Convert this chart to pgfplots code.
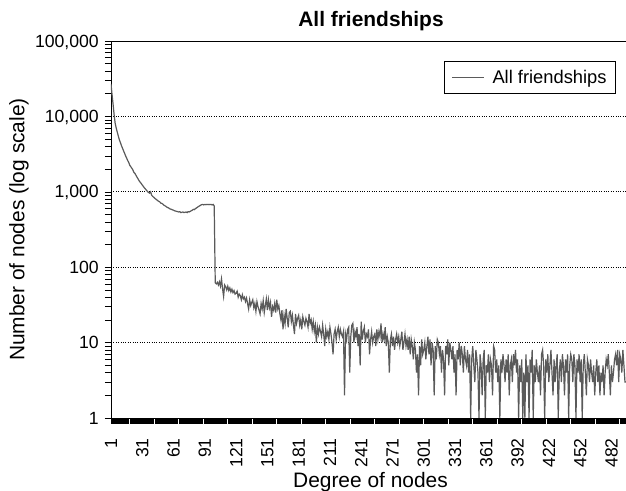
\documentclass[border=0pt]{standalone}
\usepackage{fontspec}
\setmainfont{Liberation Sans}
\usepackage{pgfplots}
\pgfplotsset{compat=1.18}
\definecolor{linegray}{RGB}{90,90,90}
\begin{document}
\begin{tikzpicture}
\begin{axis}[
  at={(111bp,73bp)}, anchor=south west,
  scale only axis, width=515bp, height=377bp,
  ymode=log, ymin=1, ymax=100000,
  xmin=0, xmax=494,
  axis x line=box, axis y line=left,
  x axis line style={-}, y axis line style={-},
  axis line style={black, line width=0.9bp},
  xtick={0,30,...,480},
  xticklabels={1,31,61,91,121,151,181,211,241,271,301,331,361,392,422,452,482},
  minor xtick={0,1,...,494},
  ytick={1,10,100,1000,10000,100000},
  yticklabels={1,10,100,{1,000},{10,000},{100,000}},
  xtick pos=left, ytick pos=left,
  tick align=outside,
  major tick length=6bp, minor tick length=6bp,
  tick style={black, line width=0.5bp},
  ymajorgrids, major grid style={black, dotted, line width=0.7bp},
  tick label style={font=\fontsize{17.7}{20}\selectfont},
  xticklabel style={yshift=-14bp, rotate=90, anchor=east, inner sep=0pt, text depth=0pt},
  yticklabel style={xshift=-6bp, anchor=east, inner sep=0pt, text depth=0pt},
  legend style={at={(0.9806,0.947)}, anchor=north east, draw=black, line width=0.8bp,
    font=\fontsize{18.4}{21}\selectfont, inner xsep=7bp, inner ysep=6.5bp,
    /tikz/every odd column/.append style={column sep=6bp}},
  legend image code/.code={\draw[#1,line width=1bp] (0bp,0bp)--(32bp,0bp);},
]
\addplot[color=linegray, line width=1.2bp, mark=none] coordinates {
(0,27000)(1,19500)(2,14500)(3,10500)(4,8100)(5,7000)(6,6200)(7,5500)(8,4900)(9,4500)
(10,4100)(11,3800)(12,3500)(13,3250)(14,3000)(15,2800)(16,2600)(17,2450)(18,2250)(19,2150)
(20,2050)(21,1950)(22,1800)(23,1750)(24,1650)(25,1560)(26,1480)(27,1400)(28,1340)(29,1290)
(30,1230)(31,1180)(32,1130)(33,1090)(34,1050)(35,1010)(36,980)(37,960)(38,1000)(39,900)
(40,870)(41,845)(42,820)(43,800)(44,780)(45,760)(46,745)(47,730)(48,705)(49,700)
(50,680)(51,660)(52,650)(53,635)(54,620)(55,615)(56,600)(57,590)(58,585)(59,575)
(60,570)(61,560)(62,555)(63,550)(64,545)(65,540)(66,545)(67,530)(68,535)(69,540)
(70,530)(71,535)(72,540)(73,530)(74,545)(75,540)(76,550)(77,560)(78,570)(79,585)
(80,580)(81,600)(82,610)(83,625)(84,640)(85,650)(86,665)(87,675)(88,680)(89,670)
(90,680)(91,675)(92,680)(93,680)(94,675)(95,680)(96,680)(97,670)(98,680)(99,650)
(100,62)(101,60)(102,63)(103,58)(104,64)(105,56)(106,70)(107,52)(108,41)(109,58)
(110,55)(111,50)(112,56)(113,49)(114,53)(115,47)(116,51)(117,46)(118,49)(119,44)
(120,45)(121,48)(122,40)(123,44)(124,42)(125,37)(126,43)(127,38)(128,40)(129,35)
(130,39)(131,33)(132,28)(133,37)(134,31)(135,34)(136,37)(137,29)(138,33)(139,26)
(140,35)(141,30)(142,27)(143,24)(144,33)(145,28)(146,36)(147,25)(148,31)(149,38)
(150,27)(151,37)(152,29)(153,34)(154,22)(155,30)(156,27)(157,33)(158,25)(159,37)
(160,28)(161,31)(162,24)(163,20)(164,27)(165,15)(166,23)(167,18)(168,28)(169,21)
(170,16)(171,25)(172,26)(173,19)(174,23)(175,17)(176,13)(177,24)(178,18)(179,21)
(180,23)(181,17)(182,20)(183,15)(184,22)(185,19)(186,17)(187,21)(188,19)(189,16)
(190,24)(191,18)(192,20)(193,15)(194,19)(195,14)(196,17)(197,10)(198,16)(199,13)
(200,16)(201,14)(202,12)(203,17)(204,13)(205,9)(206,15)(207,12)(208,14)(209,11)
(210,16)(211,13)(212,10)(213,7)(214,13)(215,15)(216,11)(217,14)(218,16)(219,12)
(220,15)(221,13)(222,12)(223,14)(224,2)(225,13)(226,11)(227,15)(228,16)(229,4)
(230,12)(231,17)(232,18)(233,10)(234,14)(235,12)(236,16)(237,9)(238,13)(239,5)
(240,19)(241,11)(242,14)(243,16)(244,10)(245,13)(246,12)(247,15)(248,7)(249,11)
(250,14)(251,10)(252,12)(253,13)(254,9)(255,15)(256,11)(257,14)(258,12)(259,18)
(260,10)(261,13)(262,11)(263,16)(264,9)(265,12)(266,10)(267,4)(268,11)(269,13)
(270,9)(271,12)(272,8)(273,11)(274,13)(275,10)(276,12)(277,9)(278,11)(279,14)
(280,8)(281,10)(282,13)(283,9)(284,11)(285,8)(286,12)(287,7)(288,11)(289,9)
(290,6)(291,10)(292,8)(293,4)(294,7)(295,2)(296,9)(297,5)(298,11)(299,7)
(300,8)(301,10)(302,6)(303,9)(304,12)(305,7)(306,11)(307,5)(308,10)(309,8)
(310,2)(311,9)(312,6)(313,11)(314,10)(315,7)(316,9)(317,4)(318,8)(319,6)
(320,2)(321,9)(322,7)(323,11)(324,5)(325,10)(326,8)(327,6)(328,9)(329,4)
(330,7)(331,2)(332,8)(333,6)(334,10)(335,5)(336,9)(337,7)(338,4)(339,9)
(340,6)(341,5)(342,8)(343,4)(344,7)(345,1)(346,6)(347,9)(348,5)(349,3)
(350,8)(351,6)(352,4)(353,1)(354,7)(355,5)(356,2)(357,6)(358,8)(359,1)
(360,5)(361,4)(362,7)(363,3)(364,6)(365,5)(366,2)(367,9)(368,8)(369,4)
(370,6)(371,3)(372,5)(373,1)(374,6)(375,4)(376,7)(377,5)(378,3)(379,6)
(380,4)(381,7)(382,2)(383,5)(384,6)(385,3)(386,7)(387,5)(388,8)(389,4)
(390,6)(391,1)(392,5)(393,3)(394,6)(395,1)(396,4)(397,1)(398,7)(399,3)
(400,5)(401,1)(402,6)(403,4)(404,8)(405,1)(406,5)(407,3)(408,6)(409,4)
(410,3)(411,5)(412,2)(413,7)(414,8)(415,5)(416,1)(417,6)(418,4)(419,7)
(420,3)(421,5)(422,8)(423,4)(424,2)(425,6)(426,3)(427,5)(428,7)(429,1)
(430,4)(431,6)(432,3)(433,7)(434,5)(435,2)(436,6)(437,4)(438,7)(439,1)
(440,5)(441,7)(442,6)(443,3)(444,7)(445,5)(446,1)(447,6)(448,4)(449,7)
(450,3)(451,6)(452,1)(453,5)(454,7)(455,4)(456,2)(457,6)(458,5)(459,3)
(460,6)(461,4)(462,3)(463,5)(464,2)(465,4)(466,6)(467,3)(468,5)(469,2)
(470,4)(471,3)(472,5)(473,2)(474,4)(475,6)(476,5)(477,7)(478,4)(479,2)
(480,5)(481,3)(482,4)(483,6)(484,7)(485,5)(486,8)(487,3)(488,7)(489,6)
(490,4)(491,8)(492,5)(493,3)(494,3)
};
\addlegendentry{All friendships}
\end{axis}
\node[anchor=base, font=\fontsize{21}{24}\selectfont\bfseries] at (371bp,464bp) {All friendships};
\node[anchor=base, font=\fontsize{21}{24}\selectfont] at (370.5bp,4bp) {Degree of nodes};
\node[rotate=90, anchor=center, inner sep=0pt, font=\fontsize{21}{24}\selectfont] at (19bp,261.5bp) {Number of nodes (log scale)};
\pgfresetboundingbox
\useasboundingbox (0bp,0bp) rectangle (626bp,491bp);
\end{tikzpicture}
\end{document}
